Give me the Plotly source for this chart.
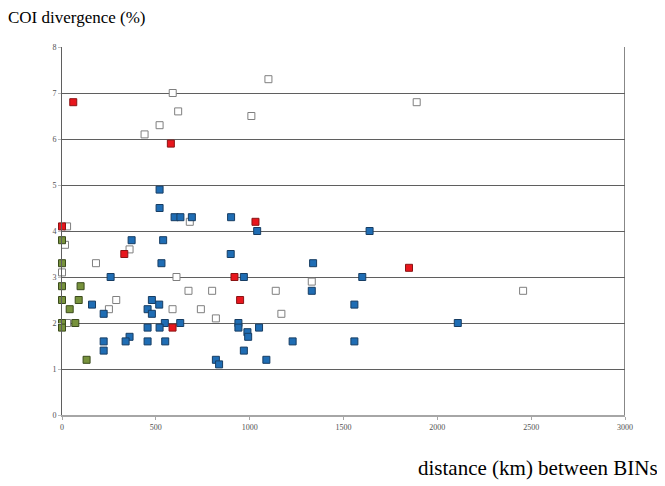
import plotly.graph_objects as go

blue_x = [520, 520, 600, 631, 692, 901, 1040, 371, 539, 899, 530, 1338, 259, 969, 1600, 1639, 1331, 479, 160, 518, 1558, 456, 222, 479, 548, 630, 940, 2109, 456, 520, 940, 1050, 988, 992, 360, 222, 339, 456, 550, 1229, 1558, 222, 969, 820, 1089, 837]
blue_y = [4.9, 4.5, 4.3, 4.3, 4.3, 4.3, 4.0, 3.8, 3.8, 3.5, 3.3, 3.3, 3.0, 3.0, 3.0, 4.0, 2.7, 2.5, 2.4, 2.4, 2.4, 2.3, 2.2, 2.2, 2.0, 2.0, 2.0, 2.0, 1.9, 1.9, 1.9, 1.9, 1.8, 1.7, 1.7, 1.6, 1.6, 1.6, 1.6, 1.6, 1.6, 1.4, 1.4, 1.2, 1.2, 1.1]

red_x = [60, 580, 1031, 0, 332, 1849, 919, 949, 589]
red_y = [6.8, 5.9, 4.2, 4.1, 3.5, 3.2, 3.0, 2.5, 1.9]

green_x = [0, 0, 0, 99, 0, 89, 41, 0, 71, 0, 131]
green_y = [3.8, 3.3, 2.8, 2.8, 2.5, 2.5, 2.3, 2.0, 2.0, 1.9, 1.2]

white_x = [1100, 590, 1890, 619, 1009, 520, 440, 681, 27, 16, 360, 181, 0, 610, 1331, 674, 800, 1139, 2457, 289, 250, 589, 740, 1169, 820, 27]
white_y = [7.3, 7.0, 6.8, 6.6, 6.5, 6.3, 6.1, 4.2, 4.1, 3.7, 3.6, 3.3, 3.1, 3.0, 2.9, 2.7, 2.7, 2.7, 2.7, 2.5, 2.3, 2.3, 2.3, 2.2, 2.1, 2.0]

x_ticks = [0, 500, 1000, 1500, 2000, 2500, 3000]
y_ticks = [0, 1, 2, 3, 4, 5, 6, 7, 8]

fig = go.Figure()

def add(xs, ys, fill, border):
    fig.add_trace(go.Scatter(
        x=xs, y=ys, mode="markers", cliponaxis=False, showlegend=False,
        marker=dict(symbol="square", size=7, color=fill,
                    line=dict(color=border, width=1))))

add(white_x, white_y, "white", "#7f7f7f")
add(blue_x, blue_y, "#1f6db4", "#173d63")
add(green_x, green_y, "#77923c", "#3a4a1c")
add(red_x, red_y, "#e8161d", "#8a1414")

fig.update_layout(
    width=657, height=478,
    margin=dict(l=54, r=40, t=39, b=71),
    paper_bgcolor="white", plot_bgcolor="white",
    font=dict(family="Liberation Serif", color="#505050", size=8),
    xaxis=dict(range=[0, 3000], tickvals=x_ticks, showgrid=False, zeroline=False,
               showline=True, linecolor="#a6a6a6", linewidth=2, mirror=False,
               ticks="outside", ticklen=3, tickcolor="#a6a6a6",
               tickfont=dict(size=8, color="#505050")),
    yaxis=dict(range=[0, 8], tickvals=y_ticks, showgrid=True, gridcolor="#5f5f5f",
               gridwidth=1, zeroline=False, showline=True, linecolor="#5f5f5f",
               linewidth=1, ticks="outside", ticklen=3, tickcolor="#bfbfbf",
               tickfont=dict(size=8, color="#505050")),
    shapes=[dict(type="line", xref="x", yref="y", x0=3000, x1=3000, y0=0, y1=8,
                 line=dict(color="#5f5f5f", width=1.5), layer="below")],
    annotations=[
        dict(text="COI divergence (%)", xref="paper", yref="paper",
             x=-0.0995, y=1.081, xanchor="left", yanchor="middle", showarrow=False,
             font=dict(family="Liberation Serif", size=17, color="black")),
        dict(text="distance (km) between BINs", xref="paper", yref="paper",
             x=1.062, y=-0.144, xanchor="right", yanchor="middle", showarrow=False,
             font=dict(family="Liberation Serif", size=21, color="black")),
    ],
)

fig.write_html("out.html")
